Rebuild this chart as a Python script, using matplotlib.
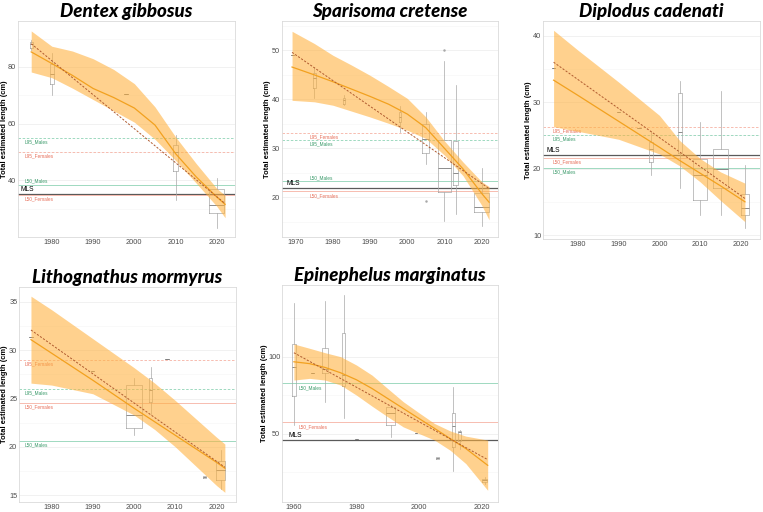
import numpy as np
import matplotlib.pyplot as plt

plt.rcParams['font.family'] = ['Liberation Sans', 'DejaVu Sans']

# ---- Dentex gibbosus ----
dg_box_year = [1975, 1980, 1998, 2010, 2020]
dg_box_stats = [(86.0, 86.5, 88.0, 88.8, 89.5), (70.2, 73.8, 77.6, 81.2, 84.9),
                (70.6, 70.6, 70.6, 70.6, 70.6), (33.2, 43.3, 50.0, 52.6, 56.1),
                (23.3, 28.6, 31.4, 36.8, 40.8)]
dg_box_n = [8, 10, 8, 14, 165]
dg_fit_year = [1975, 1980, 1985, 1990, 1995, 2000, 2005, 2010, 2015, 2020, 2022]
dg_fit = [85.3, 81.2, 77.0, 72.4, 69.2, 65.5, 59.5, 49.4, 41.2, 34.1, 31.5]
dg_band_lo = [78.2, 76.2, 72.5, 68.5, 64.5, 60.5, 54.5, 47.0, 39.0, 30.8, 26.8]
dg_band_hi = [92.7, 87.3, 85.6, 82.9, 79.1, 74.1, 65.9, 55.3, 45.9, 37.1, 34.7]
dg_trend_year = [1975, 2022]
dg_trend = [88.2, 31.8]
dg_refs = [('L95_Males', 55.0), ('L95_Females', 50.0), ('L50_Males', 38.5),
           ('MLS', 35.1), ('L50_Females', 34.7)]

# ---- Sparisoma cretense ----
sc_box_year = [1969, 1975, 1983, 1998, 2005, 2010, 2013, 2020]
sc_box_stats = [(49.0, 49.0, 49.0, 49.0, 49.0), (40.3, 42.4, 44.4, 45.4, 46.7),
                (38.8, 39.0, 39.8, 40.2, 40.8), (33.4, 35.4, 36.5, 37.5, 38.6),
                (26.8, 29.0, 32.0, 34.9, 37.5), (15.1, 21.0, 26.0, 31.7, 47.8),
                (16.5, 22.5, 25.0, 31.4, 42.9), (14.1, 17.0, 18.0, 20.9, 26.0)]
sc_box_n = [8, 10, 6, 6, 46, 175, 18, 194]
sc_out_year = [2005, 2010]
sc_out = [19.2, 50.0]
sc_fit_year = [1969, 1975, 1980, 1985, 1990, 1995, 2000, 2005, 2010, 2015, 2020, 2022]
sc_fit = [46.6, 45.0, 43.6, 42.1, 40.6, 39.0, 37.0, 34.2, 30.0, 25.8, 20.8, 19.0]
sc_band_lo = [39.8, 39.5, 38.8, 37.6, 36.4, 35.1, 33.7, 32.0, 28.6, 24.4, 18.4, 15.4]
sc_band_hi = [53.9, 51.4, 49.0, 47.0, 44.9, 42.6, 40.2, 36.4, 31.5, 27.2, 23.2, 22.2]
sc_trend_year = [1969, 2022]
sc_trend = [49.6, 21.8]
sc_refs = [('L95_Females', 33.2), ('L95_Males', 31.7), ('L50_Males', 23.3),
           ('MLS', 21.9), ('L50_Females', 21.2)]

# ---- Diplodus cadenati ----
dc_box_year = [1974, 1990, 1995, 1998, 2005, 2010, 2015, 2021]
dc_box_stats = [(35.1, 35.1, 35.1, 35.1, 35.1), (28.5, 28.5, 28.5, 28.5, 28.5),
                (26.1, 26.1, 26.1, 26.1, 26.1), (19.0, 21.0, 23.0, 24.0, 25.6),
                (17.1, 22.3, 25.5, 31.4, 33.1), (13.0, 15.2, 19.0, 21.5, 27.0),
                (13.0, 17.0, 20.0, 23.0, 31.6), (11.0, 13.0, 14.0, 16.1, 20.5)]
dc_box_n = [8, 8, 8, 13, 13, 147, 189, 41]
dc_fit_year = [1974, 1980, 1990, 2000, 2005, 2010, 2015, 2021]
dc_fit = [33.3, 31.0, 27.1, 23.2, 21.2, 19.3, 17.4, 15.0]
dc_band_lo = [26.3, 25.6, 24.4, 22.2, 20.4, 18.0, 15.2, 12.0]
dc_band_hi = [40.8, 37.8, 33.0, 28.0, 24.2, 21.5, 19.5, 17.8]
dc_trend_year = [1974, 2021]
dc_trend = [36.0, 15.5]
dc_refs = [('L95_Females', 26.25), ('L95_Males', 25.05), ('MLS', 22.0),
           ('L50_Females', 21.6), ('L50_Males', 20.1)]

# ---- Lithognathus mormyrus ----
lmo_box_year = [1975, 1990, 2000, 2004, 2008, 2017, 2021]
lmo_box_stats = [(31.4, 31.4, 31.4, 31.4, 31.4), (27.9, 27.9, 27.9, 27.9, 27.9),
                 (21.2, 22.0, 23.3, 26.45, 27.1), (23.4, 24.6, 25.9, 27.1, 28.3),
                 (29.07, 29.07, 29.07, 29.07, 29.07), (16.8, 16.8, 16.9, 17.0, 17.0),
                 (15.6, 16.6, 17.65, 18.55, 19.65)]
lmo_box_n = [8, 8, 184, 8, 8, 8, 56]
lmo_fit_year = [1975, 1980, 1990, 2000, 2005, 2010, 2015, 2020, 2022]
lmo_fit = [31.1, 29.7, 26.9, 24.0, 22.6, 21.2, 19.8, 18.4, 17.8]
lmo_band_lo = [26.6, 26.4, 25.5, 23.3, 21.8, 20.0, 18.0, 16.0, 15.3]
lmo_band_hi = [35.6, 34.2, 31.2, 28.2, 26.6, 24.8, 22.9, 21.0, 20.3]
lmo_trend_year = [1975, 2022]
lmo_trend = [32.1, 17.9]
lmo_refs = [('L95_Females', 29.0), ('L95_Males', 26.0), ('L50_Females', 24.55),
            ('L50_Males', 20.6)]

# ---- Epinephelus marginatus ----
em_box_year = [1960, 1966, 1970, 1976, 1980, 1991, 1999, 2006, 2011, 2013, 2021]
em_box_stats = [(55.4, 74.3, 93.0, 108.3, 135.2), (89.1, 89.1, 89.1, 89.1, 89.1),
                (70.7, 89.1, 91.7, 106.0, 136.5), (60.4, 80.9, 88.0, 115.2, 140.2),
                (46.1, 46.1, 46.1, 46.1, 46.1), (47.8, 55.4, 63.5, 67.4, 68.5),
                (50.4, 50.4, 50.4, 50.4, 50.4), (33.6, 33.6, 34.3, 35.0, 35.0),
                (25.4, 40.9, 54.8, 63.5, 80.4), (40.2, 45.0, 50.7, 51.7, 52.6),
                (17.4, 18.5, 19.8, 20.7, 21.7)]
em_box_n = [15, 13, 51, 13, 8, 107, 8, 8, 15, 7, 33]
em_fit_year = [1960, 1965, 1970, 1975, 1980, 1985, 1990, 1995, 2000, 2005, 2010, 2015, 2022]
em_fit = [96.7, 95.5, 93.0, 89.5, 85.0, 79.3, 72.8, 66.3, 59.8, 53.3, 46.7, 40.2, 29.3]
em_band_lo = [84.8, 85.9, 84.8, 81.5, 75.0, 67.8, 60.9, 54.3, 50.0, 45.7, 39.1, 30.4, 13.0]
em_band_hi = [108.3, 105.5, 102.6, 100.0, 94.6, 88.0, 79.3, 70.7, 63.5, 56.5, 51.7, 48.3, 45.7]
em_trend_year = [1960, 2022]
em_trend = [102.6, 33.0]
em_refs = [('L50_Males', 82.6), ('L50_Females', 57.2), ('MLS', 45.7)]

W, H = 763, 512
BAND_C = '#FFB13D'
FIT_C = '#F2A11F'
TREND_C = '#B05A2E'
BOX_C = '#a8a8a8'
GREEN_LINE, GREEN_TXT = '#8fd3b6', '#3a9a6a'
RED_LINE, RED_TXT = '#f6b2a4', '#e76f5a'


def draw_panel(box, title, xlim, ylim, xticks, yticks, yminor,
               b_year, b_stats, b_n, f_year, fit, lo, hi, t_year, trend,
               refs, lab_x, mls_x, above, ylab_x, out=None):
    x0, y0, x1, y1 = box
    ax = fig.add_axes([x0 / W, 1 - y1 / H, (x1 - x0) / W, (y1 - y0) / H])
    ax.set_xlim(*xlim)
    ax.set_ylim(*ylim)

    # reference lines
    for name, v in refs:
        if name == 'MLS':
            ax.axhline(v, color='#5a5a5a', lw=0.9, zorder=2)
            ax.annotate('MLS', (mls_x, v), xytext=(0, 1.0), textcoords='offset points',
                        ha='left', va='bottom', fontsize=4.8, color='black')
            continue
        lc, tc = (RED_LINE, RED_TXT) if 'Females' in name else (GREEN_LINE, GREEN_TXT)
        ls = (0, (3, 2)) if name.startswith('L95') else '-'
        ax.axhline(v, color=lc, lw=0.6, ls=ls, zorder=2)
        if name in above:
            ax.annotate(name, (lab_x, v), xytext=(0, 0.8), textcoords='offset points',
                        ha='left', va='bottom', fontsize=3.4, color=tc)
        else:
            ax.annotate(name, (lab_x, v), xytext=(0, -1.0), textcoords='offset points',
                        ha='left', va='top', fontsize=3.4, color=tc)

    # boxes (width grows with sample size)
    stats = [dict(whislo=s[0], q1=s[1], med=s[2], q3=s[3], whishi=s[4], fliers=[])
             for s in b_stats]
    widths = [0.28 * np.sqrt(n) for n in b_n]
    ax.bxp(stats, positions=b_year, widths=widths, showcaps=False, showfliers=False,
           manage_ticks=False,
           boxprops=dict(color=BOX_C, lw=0.5), whiskerprops=dict(color=BOX_C, lw=0.5),
           medianprops=dict(color='#7a7a7a', lw=0.6), zorder=3)
    if out is not None:
        ax.scatter(out[0], out[1], s=0.6, color=BOX_C, zorder=3)

    # smoother, band and linear trend
    ax.fill_between(f_year, lo, hi, color=BAND_C, alpha=0.58, lw=0, zorder=4)
    ax.plot(f_year, fit, color=FIT_C, lw=0.9, zorder=5)
    ax.plot(t_year, trend, color=TREND_C, lw=0.7, ls=(0, (2.2, 1.6)), zorder=6)

    ax.set_xticks(xticks)
    ax.set_yticks(yticks)
    ax.set_yticks(yminor, minor=True)
    ax.grid(axis='y', which='major', color='#ececec', lw=0.5, zorder=0)
    ax.grid(axis='y', which='minor', color='#f5f5f5', lw=0.4, zorder=0)
    ax.set_axisbelow(True)
    ax.tick_params(which='both', length=0, pad=1.2, labelsize=5.3, labelcolor='#4d4d4d')
    for sp in ax.spines.values():
        sp.set_color('#dadada')
        sp.set_linewidth(0.6)

    ax.set_ylabel('Total estimated length (cm)', fontsize=5.4, fontweight='bold')
    ax.yaxis.set_label_coords(ylab_x, 0.5)
    ax.set_title(title, family=['Lato', 'DejaVu Sans'], fontsize=13.5,
                 fontweight='black', style='italic', pad=3)
    return ax


fig = plt.figure(figsize=(W / 100, H / 100), dpi=100)

draw_panel((18, 21, 235, 237), 'Dentex gibbosus', (1971.8, 2024.4), (20, 96.2),
           [1980, 1990, 2000, 2010, 2020], [40, 60, 80], [30, 50, 70, 90],
           dg_box_year, dg_box_stats, dg_box_n, dg_fit_year, dg_fit, dg_band_lo, dg_band_hi,
           dg_trend_year, dg_trend, dg_refs, 1973.5, 1972.3, {'L50_Males'}, -0.045)

draw_panel((282, 21, 498, 237), 'Sparisoma cretense', (1966.3, 2024.4), (11.9, 56),
           [1970, 1980, 1990, 2000, 2010, 2020], [20, 30, 40, 50], [15, 25, 35, 45, 55],
           sc_box_year, sc_box_stats, sc_box_n, sc_fit_year, sc_fit, sc_band_lo, sc_band_hi,
           sc_trend_year, sc_trend, sc_refs, 1973.8, 1967.6, {'L50_Males'}, -0.052,
           out=(sc_out_year, sc_out))

draw_panel((543, 21, 760, 239), 'Diplodus cadenati', (1971.4, 2024.7), (9.4, 42.2),
           [1980, 1990, 2000, 2010, 2020], [10, 20, 30, 40], [15, 25, 35],
           dc_box_year, dc_box_stats, dc_box_n, dc_fit_year, dc_fit, dc_band_lo, dc_band_hi,
           dc_trend_year, dc_trend, dc_refs, 1973.8, 1972.2, set(), -0.05)

draw_panel((19, 287, 236, 502), 'Lithognathus mormyrus', (1972.1, 2024.7), (14.3, 36.55),
           [1980, 1990, 2000, 2010, 2020], [15, 20, 25, 30, 35], [17.5, 22.5, 27.5, 32.5],
           lmo_box_year, lmo_box_stats, lmo_box_n, lmo_fit_year, lmo_fit, lmo_band_lo,
           lmo_band_hi, lmo_trend_year, lmo_trend, lmo_refs, 1973.5, 1973.5, set(), -0.05)

draw_panel((282, 285, 498, 502), 'Epinephelus marginatus', (1956.2, 2025.3), (5.4, 146.7),
           [1960, 1980, 2000, 2020], [50, 100], [25, 75, 125],
           em_box_year, em_box_stats, em_box_n, em_fit_year, em_fit, em_band_lo, em_band_hi,
           em_trend_year, em_trend, em_refs, 1961.6, 1958.2, set(), -0.066)

fig.savefig('out.png', dpi=100)
